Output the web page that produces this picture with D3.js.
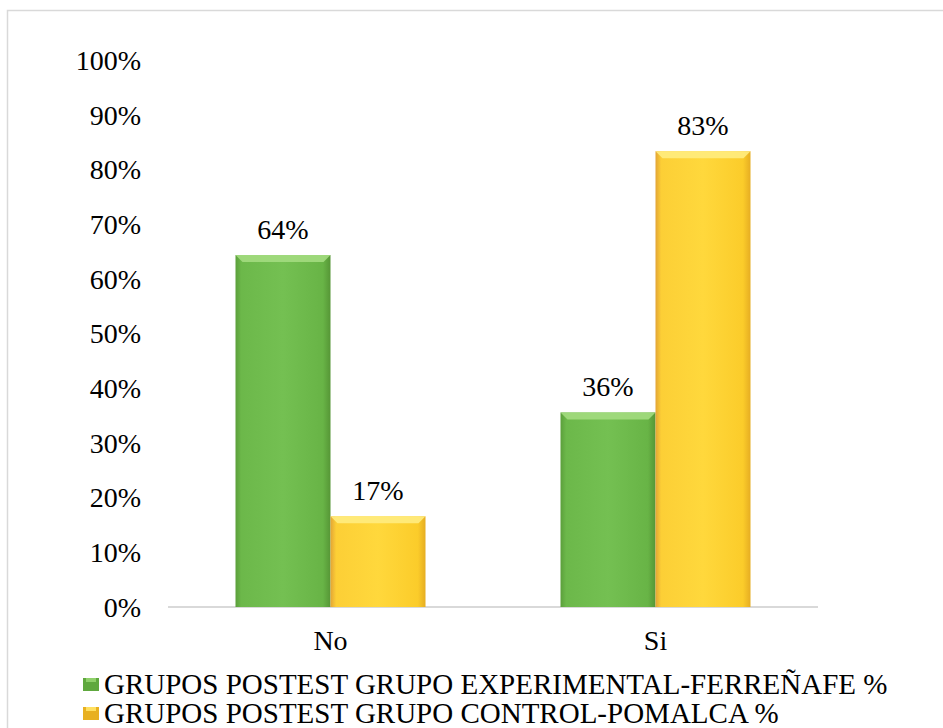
<!DOCTYPE html>
<html>
<head>
<meta charset="utf-8">
<script src="https://cdn.jsdelivr.net/npm/d3@7"></script>
<style>
  html, body { margin: 0; padding: 0; background: #fff; }
  svg { display: block; }
</style>
</head>
<body>
<svg id="chart" width="943" height="728"></svg>
<script>
const categories = ["No", "Si"];
const seriesNames = [
  "GRUPOS POSTEST GRUPO EXPERIMENTAL-FERREÑAFE %",
  "GRUPOS POSTEST GRUPO CONTROL-POMALCA %"
];
const experimental = [0.644, 0.356];
const control = [0.166, 0.834];
const yTicks = [0, 0.1, 0.2, 0.3, 0.4, 0.5, 0.6, 0.7, 0.8, 0.9, 1.0];

const FONT = "'Liberation Serif', 'Times New Roman', Times, 'Noto Serif', 'DejaVu Serif', serif";
const svg = d3.select("#chart");
const W = 943, H = 728;

// chart border
svg.append("rect")
  .attr("x", 7.5).attr("y", 10.5)
  .attr("width", W + 20).attr("height", H + 20)
  .attr("fill", "#fff").attr("stroke", "#d9d9d9").attr("stroke-width", 1.5);

const defs = svg.append("defs");
function grad(id, stops) {
  const g = defs.append("linearGradient").attr("id", id)
    .attr("x1", "0").attr("y1", "0").attr("x2", "1").attr("y2", "0");
  stops.forEach(s => g.append("stop").attr("offset", s[0]).attr("stop-color", s[1]));
}
grad("gGreen", [[0, "#5b9f3b"], [0.06, "#6cb84a"], [0.5, "#74c052"], [0.92, "#68b446"], [1, "#569636"]]);
grad("gYellow", [[0, "#e3a535"], [0.06, "#fccf36"], [0.5, "#ffd83c"], [0.92, "#fbcc2a"], [1, "#e6ad22"]]);
const topColor = ["#a3db80", "#ffec80"];
const fills = ["url(#gGreen)", "url(#gYellow)"];

const x0 = d3.scaleBand().domain(categories).range([168, 818]).padding(0);
const x1 = d3.scaleBand().domain([0, 1]).range([67.5, 257.5]).padding(0);
const y = d3.scaleLinear().domain([0, 1]).range([607, 60.5]);

function txt(sel, size) {
  return sel.attr("font-family", FONT).attr("font-size", size).attr("fill", "#000");
}

// y labels
txt(svg.append("g").selectAll("text").data(yTicks).join("text"), 28)
  .attr("x", 141).attr("y", d => y(d))
  .attr("text-anchor", "end").attr("dominant-baseline", "central")
  .text(d => d3.format(".0%")(d));

// x axis line
svg.append("line").attr("x1", 168).attr("x2", 818)
  .attr("y1", y(0)).attr("y2", y(0))
  .attr("stroke", "#d9d9d9").attr("stroke-width", 2);

// x labels
txt(svg.append("g").selectAll("text").data(categories).join("text"), 28)
  .attr("x", d => x0(d) + x0.bandwidth() / 2).attr("y", 650)
  .attr("text-anchor", "middle")
  .text(d => d);

const series = [experimental, control];
series.forEach((vals, si) => {
  const g = svg.append("g");
  const data = categories.map((c, i) => ({ c, v: vals[i] }));
  g.selectAll("rect.bar").data(data).join("rect").attr("class", "bar")
    .attr("x", d => x0(d.c) + x1(si)).attr("width", x1.bandwidth())
    .attr("y", d => y(d.v)).attr("height", d => y(0) - y(d.v))
    .attr("fill", fills[si]);
  // top bevel highlight
  g.selectAll("path.bevel").data(data).join("path").attr("class", "bevel")
    .attr("d", d => {
      const xa = x0(d.c) + x1(si), xb = xa + x1.bandwidth(), yt = y(d.v), b = 7;
      return `M${xa},${yt}L${xb},${yt}L${xb - b},${yt + b}L${xa + b},${yt + b}Z`;
    })
    .attr("fill", topColor[si]).attr("opacity", 0.9);
  txt(g.selectAll("text").data(data).join("text"), 28)
    .attr("x", d => x0(d.c) + x1(si) + x1.bandwidth() / 2)
    .attr("y", d => y(d.v) - 16)
    .attr("text-anchor", "middle")
    .text(d => d3.format(".0%")(d.v));
});

// legend
const leg = svg.append("g");
const legendMarker = [["#5fa83e", "#8fd06a"], ["#e8b020", "#ffe060"]];
seriesNames.forEach((name, i) => {
  const yy = 694 + i * 29;
  leg.append("rect").attr("x", 83).attr("y", yy - 16).attr("width", 16).attr("height", 13)
    .attr("fill", legendMarker[i][0]);
  leg.append("rect").attr("x", 86).attr("y", yy - 16).attr("width", 10).attr("height", 4)
    .attr("fill", legendMarker[i][1]);
  txt(leg.append("text"), 29).attr("x", 104).attr("y", yy)
    .text(name);
});
</script>
</body>
</html>
